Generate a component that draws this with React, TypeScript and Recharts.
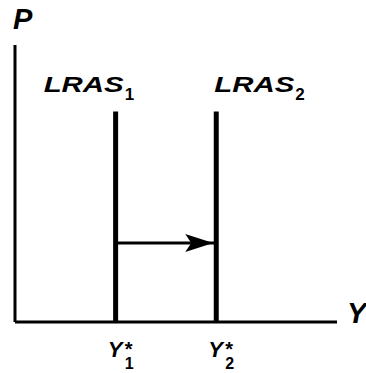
import React from "react";
import { LineChart, Line, XAxis, YAxis, LabelList, Label } from "recharts";

// quantities on the Y axis
const potentialOutput = [1, 2];
const outputSubscripts = ["1", "2"];
const curveNames = ["LRAS", "LRAS"];
const curveTop = 7.6;
const arrowLevel = 2.85;

const lras1 = [
  { x: potentialOutput[0], y: 0 },
  { x: potentialOutput[0], y: curveTop },
];
const lras2 = [
  { x: potentialOutput[1], y: 0 },
  { x: potentialOutput[1], y: curveTop },
];
const shift = [
  { x: potentialOutput[0], y: arrowLevel },
  { x: potentialOutput[1], y: arrowLevel },
];

const font = "'Liberation Sans', Arial, Helvetica, sans-serif";

const ArrowHead = (props: any) => {
  const { cx, cy, index } = props;
  if (index !== 1) return <g key={`a${index}`} />;
  return (
    <polygon
      key="head"
      points={`${cx - 3},${cy} ${cx - 31},${cy - 9} ${cx - 25},${cy} ${cx - 31},${cy + 9}`}
      fill="#000"
    />
  );
};

const makeCurveLabel = (i: number, dx: number) => (props: any) => {
  const { x, y, index } = props;
  if (index !== 1) return null;
  return (
    <text x={x + dx} y={y - 19} fontFamily={font} fontWeight="bold" fill="#000">
      <tspan fontStyle="italic" fontSize={22} textLength={80} lengthAdjust="spacingAndGlyphs">
        {curveNames[i]}
      </tspan>
      <tspan dx={1} dy={8} fontSize={17}>
        {outputSubscripts[i]}
      </tspan>
    </text>
  );
};

const OutputTick = (props: any) => {
  const { x, y, payload } = props;
  const i = potentialOutput.indexOf(payload.value);
  return (
    <text x={x - 8} y={y + 35} fontFamily={font} fontWeight="bold" fill="#000">
      <tspan fontStyle="italic" fontSize={22}>Y</tspan>
      <tspan x={x + 9} dy={-1} fontSize={20}>*</tspan>
      <tspan x={x + 9} dy={13} fontSize={16}>
        {outputSubscripts[i]}
      </tspan>
    </text>
  );
};

const App = () => {
  return (
    <div style={{ position: "absolute", left: 0, top: 0, background: "#fff" }}>
      <LineChart
        width={366}
        height={373}
        margin={{ top: 45, right: 29, left: 14, bottom: 0 }}
      >
        <XAxis
          type="number"
          dataKey="x"
          domain={[0, 3.2]}
          ticks={potentialOutput}
          tick={<OutputTick />}
          tickLine={false}
          tickSize={0}
          tickMargin={0}
          height={51}
          axisLine={{ stroke: "#000", strokeWidth: 3 }}
        >
          <Label
            content={(p: any) => {
              const vb = p.viewBox;
              return (
                <text
                  x={vb.x + vb.width + 10}
                  y={vb.y + 1}
                  fontFamily={font}
                  fontWeight="bold"
                  fontStyle="italic"
                  fontSize={29}
                  fill="#000"
                >
                  Y
                </text>
              );
            }}
          />
        </XAxis>
        <YAxis
          type="number"
          dataKey="y"
          domain={[0, 10]}
          tick={false}
          tickLine={false}
          width={1}
          axisLine={{ stroke: "#000", strokeWidth: 3 }}
        >
          <Label
            content={(p: any) => {
              const vb = p.viewBox;
              return (
                <text
                  x={vb.x + vb.width - 2}
                  y={vb.y - 16}
                  fontFamily={font}
                  fontWeight="bold"
                  fontStyle="italic"
                  fontSize={29}
                  fill="#000"
                >
                  P
                </text>
              );
            }}
          />
        </YAxis>
        <Line
          data={shift}
          dataKey="y"
          stroke="#000"
          strokeWidth={3}
          dot={ArrowHead}
          activeDot={false}
          isAnimationActive={false}
        />
        <Line
          data={lras1}
          dataKey="y"
          stroke="#000"
          strokeWidth={5}
          dot={false}
          activeDot={false}
          isAnimationActive={false}
        >
          <LabelList dataKey="y" content={makeCurveLabel(0, -72)} />
        </Line>
        <Line
          data={lras2}
          dataKey="y"
          stroke="#000"
          strokeWidth={5}
          dot={false}
          activeDot={false}
          isAnimationActive={false}
        >
          <LabelList dataKey="y" content={makeCurveLabel(1, -2)} />
        </Line>
      </LineChart>
    </div>
  );
};

export default App;
